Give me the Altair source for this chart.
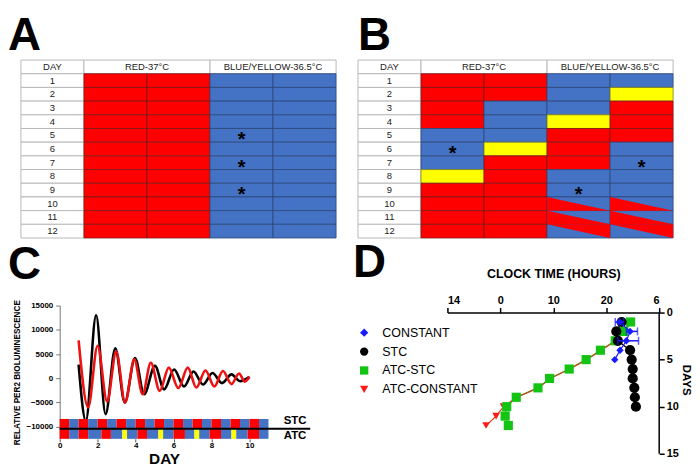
import altair as alt
import pandas as pd

FONT = "Liberation Sans"
RED, BLUE, YEL = "#ff0000", "#4472c4", "#ffff00"

# ---------------- Panels A and B (schedule tables) ----------------
DAY_NUMBERS = list(range(1, 13))
HEADERS = ["DAY", "RED-37°C", "BLUE/YELLOW-36.5°C"]
# per day: two RED-37°C slots, two BLUE/YELLOW-36.5°C slots (R=red, B=blue, Y=yellow, T=split)
A_GRID = ["RRBB", "RRBB", "RRBB", "RRBB", "RRBB", "RRBB",
          "RRBB", "RRBB", "RRBB", "RRBB", "RRBB", "RRBB"]
A_STARS = [(5, 2), (7, 2), (9, 2)]
B_GRID = ["RRBB", "RRBY", "RBBR", "RBYR", "BBRR", "BYRB",
          "BRRB", "YRBB", "RRBB", "RRTT", "RRTT", "RRTT"]
B_STARS = [(6, 0), (7, 3), (9, 2)]
B_SPLITS = {10: "lower-left", 11: "lower-left", 12: "upper-right"}

FILL = {"R": RED, "B": BLUE, "Y": YEL, "T": BLUE}
EDGE = {"R": "#7a1818", "B": "#2b4778", "Y": "#7a7a20", "T": "#2b4778"}


def letter_title(t, dx, offset):
    return alt.TitleParams(t, anchor="start", frame="group", font=FONT, fontSize=46,
                           fontWeight="bold", color="black", dx=dx, offset=offset)


def table_panel(grid, stars, splits, letter, dx):
    xs = alt.Scale(domain=[0, 5], nice=False, zero=False)
    ys = alt.Scale(domain=[0, 13], reverse=True, nice=False, zero=False)
    white = [dict(x0=0, x1=1, y0=0, y1=1), dict(x0=1, x1=3, y0=0, y1=1),
             dict(x0=3, x1=5, y0=0, y1=1)]
    white += [dict(x0=0, x1=1, y0=d, y1=d + 1) for d in DAY_NUMBERS]
    cells = []
    for d, row in zip(DAY_NUMBERS, grid):
        for c, k in enumerate(row):
            cells.append(dict(x0=c + 1, x1=c + 2, y0=d, y1=d + 1, fill=FILL[k], edge=EDGE[k]))
    tri = []
    for d, kind in splits.items():
        for c, k in enumerate(grid[d - 1]):
            if k != "T":
                continue
            tid = f"{d}-{c}"
            if kind == "lower-left":
                tri += [dict(tid=tid, tx=c + 1, ty=d, ty2=d + 1),
                        dict(tid=tid, tx=c + 2, ty=d + 1, ty2=d + 1)]
            else:
                tri += [dict(tid=tid, tx=c + 1, ty=d, ty2=d),
                        dict(tid=tid, tx=c + 2, ty=d, ty2=d + 1)]
    labels = [dict(tx=0.5, ty=0.5, t=HEADERS[0]), dict(tx=2, ty=0.5, t=HEADERS[1]),
              dict(tx=4, ty=0.5, t=HEADERS[2])]
    labels += [dict(tx=0.5, ty=d + 0.5, t=str(d)) for d in DAY_NUMBERS]
    star_rows = [dict(tx=c + 1.5, ty=d + 0.5, t="*") for d, c in stars]

    w = alt.Chart(pd.DataFrame(white)).mark_rect(fill="white", stroke="#b8b8b8", strokeWidth=1).encode(
        x=alt.X("x0:Q", scale=xs, axis=None), x2="x1:Q",
        y=alt.Y("y0:Q", scale=ys, axis=None), y2="y1:Q")
    col = alt.Chart(pd.DataFrame(cells)).mark_rect(strokeWidth=0.8).encode(
        x=alt.X("x0:Q", scale=xs, axis=None), x2="x1:Q",
        y=alt.Y("y0:Q", scale=ys, axis=None), y2="y1:Q",
        fill=alt.Fill("fill:N", scale=None), stroke=alt.Stroke("edge:N", scale=None))
    layers = [w, col]
    if tri:
        layers.append(alt.Chart(pd.DataFrame(tri)).mark_area(color=RED, opacity=1).encode(
            x=alt.X("tx:Q", scale=xs, axis=None),
            y=alt.Y("ty:Q", scale=ys, axis=None), y2="ty2:Q", detail="tid:N"))
    layers.append(alt.Chart(pd.DataFrame(labels)).mark_text(
        font=FONT, fontSize=9.5, color="#222222").encode(
        x=alt.X("tx:Q", scale=xs, axis=None), y=alt.Y("ty:Q", scale=ys, axis=None), text="t:N"))
    layers.append(alt.Chart(pd.DataFrame(star_rows)).mark_text(
        font=FONT, fontSize=20, fontWeight="bold", color="black", dy=5).encode(
        x=alt.X("tx:Q", scale=xs, axis=None), y=alt.Y("ty:Q", scale=ys, axis=None), text="t:N"))
    return alt.layer(*layers).properties(width=317, height=179,
                                         title=letter_title(letter, dx, 0))


panel_a = table_panel(A_GRID, A_STARS, {}, "A", -13)
panel_b = table_panel(B_GRID, B_STARS, B_SPLITS, "B", 0)

# ---------------- Panel C (bioluminescence) ----------------
STC_DAY = [1.0, 1.38, 1.92, 2.42, 2.93, 3.43, 3.97, 4.45, 5.02, 5.5, 6.03, 6.55, 7.05,
           7.55, 8.05, 8.55, 9.05, 9.5, 10.0]
STC_VAL = [2800, -8800, 13000, -7400, 6200, -5000, 4200, -3300, 2600, -2300, 1800, -1700,
           1400, -1300, 1100, -1000, 800, -600, 300]
ATC_DAY = [1.0, 1.5, 2.0, 2.5, 2.98, 3.45, 3.93, 4.37, 4.8, 5.27, 5.75, 6.25, 6.75, 7.2,
           7.68, 8.15, 8.6, 9.05, 9.45, 9.75, 10.0]
ATC_VAL = [7800, -6000, 6700, -4800, 5500, -5000, 3900, -3300, 3200, -2600, 2200, -2000,
           2200, -1900, 1600, -1700, 1500, -1200, 1000, -700, 300]

STC_BAND_START = [i * 0.5 for i in range(22)]
STC_BAND_COLOR = [RED if i % 2 == 0 else BLUE for i in range(22)]
ATC_BAND_START = [0, 0.5, 1.0, 1.5, 2.2, 2.7, 3.3, 3.55, 4.1, 4.6, 5.2, 5.45, 6.0, 6.6,
                  7.1, 7.35, 7.9, 8.5, 9.05, 9.3, 9.9, 10.5]
ATC_BAND_END = ATC_BAND_START[1:] + [11.0]
ATC_BAND_COLOR = [RED, BLUE, RED, BLUE, RED, BLUE, YEL, BLUE, RED, BLUE, YEL, BLUE, RED,
                  BLUE, YEL, BLUE, RED, BLUE, YEL, BLUE, RED, BLUE]
BAND_TOP, BAND_MID, BAND_BOTTOM = -8400, -10400, -12500

# the plot area is widened to the left so that it lines up with table A
cx = alt.Scale(domain=[-2.04, 11], nice=False, zero=False)
cy = alt.Scale(domain=[-12500, 15000], nice=False, zero=False)
c_xaxis = alt.Axis(values=[0, 2, 4, 6, 8, 10], format="d", title="DAY", titleFontSize=15.5,
                   titleFont=FONT, titleFontWeight="bold", titlePadding=2, labelFont=FONT,
                   labelFontSize=8, labelFontWeight="bold", labelColor="black",
                   tickColor="#555555", domain=False, tickSize=3, labelPadding=0,
                   grid=False, titleX=144)
c_yaxis = alt.Axis(values=[-10000, -5000, 0, 5000, 10000, 15000], format="d",
                   title="RELATIVE PER2 BIOLUMINESCENCE", titleFont=FONT, titleFontSize=8.2,
                   titleFontWeight="bold", titleColor="black", titlePadding=5,
                   labelFont=FONT, labelFontSize=8, labelFontWeight="bold", labelColor="black",
                   tickColor="#777777", domainColor="#777777", tickSize=4, labelPadding=3,
                   grid=False, offset=-39)


def cX(f):
    return alt.X(f, scale=cx, axis=c_xaxis)


def cY(f):
    return alt.Y(f, scale=cy, axis=c_yaxis)


stc_df = pd.DataFrame({"day": STC_DAY, "value": STC_VAL})
atc_df = pd.DataFrame({"day": ATC_DAY, "value": ATC_VAL})
band_df = pd.DataFrame(
    [dict(s=s, e=s + 0.5, t=BAND_TOP, b=BAND_MID, c=c) for s, c in zip(STC_BAND_START, STC_BAND_COLOR)]
    + [dict(s=s, e=e, t=BAND_MID, b=BAND_BOTTOM, c=c)
       for s, e, c in zip(ATC_BAND_START, ATC_BAND_END, ATC_BAND_COLOR)])

c_stc = alt.Chart(stc_df).mark_line(color="black", strokeWidth=2.6, interpolate="monotone").encode(
    x=cX("day:Q"), y=cY("value:Q"))
c_atc = alt.Chart(atc_df).mark_line(color="#ee1111", strokeWidth=2.6, interpolate="monotone").encode(
    x=cX("day:Q"), y=cY("value:Q"))
c_band = alt.Chart(band_df).mark_rect().encode(
    x=cX("s:Q"), x2="e:Q", y=cY("t:Q"), y2="b:Q", fill=alt.Fill("c:N", scale=None))
c_rule = alt.Chart(pd.DataFrame({"x0": [0], "x1": [13.2], "y": [BAND_MID]})).mark_rule(
    color="black", strokeWidth=2).encode(x=cX("x0:Q"), x2="x1:Q", y=cY("y:Q"))
c_text = alt.Chart(pd.DataFrame({"x": [12.4, 12.4], "y": [-8900, -11850], "t": ["STC", "ATC"]})).mark_text(
    font=FONT, fontSize=11.5, fontWeight="bold", color="black").encode(
    x=cX("x:Q"), y=cY("y:Q"), text="t:N")

panel_c = alt.layer(c_stc, c_atc, c_band, c_rule, c_text).properties(
    width=249, height=134, title=letter_title("C", -13, 11))

# ---------------- Panel D (phase plot) ----------------
SERIES = ["CONSTANT", "STC", "ATC-STC", "ATC-CONSTANT"]
S_COLORS = ["#1a1aff", "#000000", "#14c414", "#ff1a1a"]
S_SHAPES = ["diamond", "circle", "square", "triangle-down"]

CONST_DAY = [1, 2, 3, 4, 5]
CONST_TIME = [22.5, 24.5, 23.8, 22.6, 21.6]
CONST_LO = [21.7, 23.8, 22.2, 22.6, 21.6]
CONST_HI = [23.3, 25.9, 26.1, 22.6, 21.6]
STC_D_DAY = [1, 2, 3, 4, 5, 6, 7, 8, 9, 10]
STC_D_TIME = [22.9, 21.9, 22.2, 24.5, 24.8, 25.0, 25.0, 25.3, 25.4, 25.6]
ATCSTC_DAY = [1, 2, 3, 4, 5, 6, 7, 8, 9, 10, 11, 12]
ATCSTC_TIME = [24.6, 23.3, 21.7, 18.9, 16.2, 13.0, 9.3, 7.1, 3.0, 1.2, 0.9, 1.5]
ATCCON_DAY = [1, 2, 3, 4, 5, 6, 7, 8, 9, 10, 11, 12]
ATCCON_TIME = [24.8, 23.4, 21.8, 19.0, 16.3, 13.1, 9.4, 7.2, 3.1, 0.6, -0.8, -2.7]

dx_s = alt.Scale(domain=[-10, 30], nice=False, zero=False, padding=0)
# a little headroom above day 0 so that the top axis sits slightly below panel C's top
dy_s = alt.Scale(domain=[-0.74, 15], reverse=True, nice=False, zero=False, padding=0)
d_xaxis = alt.Axis(orient="top", values=[-10, 0, 10, 20, 30],
                   labelExpr="datum.value < 0 ? datum.value + 24 : (datum.value > 24 ? datum.value - 24 : datum.value)",
                   title="CLOCK TIME (HOURS)", titleFont=FONT, titleFontSize=12.5,
                   titleFontWeight="bold", titleColor="black", titlePadding=14,
                   labelFont=FONT, labelFontSize=11, labelFontWeight="bold", labelColor="black",
                   domainColor="black", domainWidth=1.5, tickColor="black", tickWidth=1.5,
                   tickSize=5, offset=-7, grid=False)
d_yaxis = alt.Axis(orient="right", values=[0, 5, 10, 15], title="DAYS", titleFont=FONT,
                   titleFontSize=11.5, titleFontWeight="bold", titleColor="black",
                   titlePadding=2, labelFont=FONT, labelFontSize=11, labelFontWeight="bold",
                   labelColor="black", domain=False, labelPadding=2,
                   tickColor="black", tickWidth=1.5, tickSize=5, grid=False)


def dX(f):
    return alt.X(f, scale=dx_s, axis=d_xaxis)


def dY(f):
    return alt.Y(f, scale=dy_s, axis=d_yaxis)


leg = alt.Legend(title=None, orient="none", legendX=339, legendY=268, labelFont=FONT,
                 labelFontSize=12.5, labelColor="black", symbolSize=70, rowPadding=6,
                 labelOffset=12, symbolStrokeWidth=0)
color_enc = alt.Color("series:N", scale=alt.Scale(domain=SERIES, range=S_COLORS), legend=leg)
shape_enc = alt.Shape("series:N", scale=alt.Scale(domain=SERIES, range=S_SHAPES), legend=leg)


def sdf(name, days, times):
    return pd.DataFrame({"series": name, "day": days, "time": times})


const_df = sdf("CONSTANT", CONST_DAY, CONST_TIME)
const_df["lo"] = CONST_LO
const_df["hi"] = CONST_HI
stcd_df = sdf("STC", STC_D_DAY, STC_D_TIME)
atcstc_df = sdf("ATC-STC", ATCSTC_DAY, ATCSTC_TIME)
atccon_df = sdf("ATC-CONSTANT", ATCCON_DAY, ATCCON_TIME)


def d_line(df, color):
    return alt.Chart(df).mark_line(color=color, strokeWidth=1.2).encode(
        x=dX("time:Q"), y=dY("day:Q"), order="day:Q")


def d_pts(df, size):
    return alt.Chart(df).mark_point(filled=True, opacity=1, size=size).encode(
        x=dX("time:Q"), y=dY("day:Q"), color=color_enc, shape=shape_enc)


d_axis_rule = alt.Chart(pd.DataFrame({"x": [30], "y0": [0], "y1": [15]})).mark_rule(
    color="black", strokeWidth=1.5).encode(x=dX("x:Q"), y=dY("y0:Q"), y2="y1:Q")
d_err = alt.Chart(const_df.iloc[:3]).mark_rule(color="#1a1aff", strokeWidth=1.5).encode(
    x=dX("lo:Q"), x2="hi:Q", y=dY("day:Q"))
d_cap_lo = alt.Chart(const_df.iloc[:3]).mark_tick(color="#1a1aff", thickness=1.5, size=8,
                                                   orient="vertical").encode(
    x=dX("lo:Q"), y=dY("day:Q"))
d_cap_hi = alt.Chart(const_df.iloc[:3]).mark_tick(color="#1a1aff", thickness=1.5, size=8,
                                                   orient="vertical").encode(
    x=dX("hi:Q"), y=dY("day:Q"))

panel_d = alt.layer(
    d_axis_rule,
    d_line(atcstc_df, "#14c414"), d_line(atccon_df, "#d2401a"),
    d_pts(atccon_df, 60), d_pts(atcstc_df, 85),
    d_line(stcd_df, "black"), d_pts(stcd_df, 105),
    d_err, d_cap_lo, d_cap_hi, d_line(const_df, "#1a1aff"), d_pts(const_df, 55),
).properties(width=213, height=149, title=letter_title("D", -95, -19))

row1 = alt.hconcat(panel_a, panel_b, spacing=20)
row2 = alt.hconcat(panel_c, panel_d, spacing=41)
chart = alt.vconcat(row1, row2, spacing=1).configure(
    font=FONT, padding={"left": 0, "top": 3, "right": 0, "bottom": 0}).configure_view(stroke=None)

chart.save("out.html", embed_options={"renderer": "svg", "actions": False})
